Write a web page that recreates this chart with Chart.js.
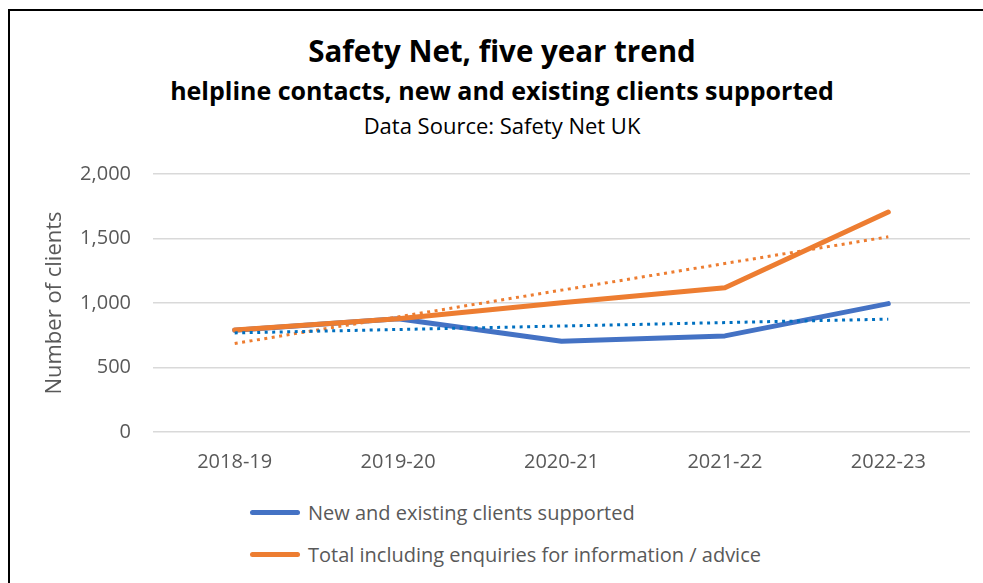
<!DOCTYPE html>
<html>
<head>
<meta charset="utf-8">
<script src="https://cdn.jsdelivr.net/npm/chart.js@4"></script>
<style>
  html, body { margin: 0; padding: 0; background: #fff; }
  body { width: 983px; height: 583px; position: relative; overflow: hidden; font-family: "Open Sans", sans-serif; }
  #frame { position: absolute; left: 8px; top: 9px; width: 990px; height: 600px; border: 2px solid #000; box-sizing: border-box; }
  .ttl { position: absolute; left: 0; width: 1004px; text-align: center; color: #000; white-space: nowrap; }
  #t1 { top: 30px; font-size: 29.5px; font-weight: 700; }
  #t2 { top: 73px; font-size: 25px; font-weight: 700; }
  #t3 { top: 110px; font-size: 22px; }
  #wrap { position: absolute; left: 0; top: 140px; width: 983px; height: 342px; }
  #legend { position: absolute; left: 250px; top: 491px; color: #595959; font-size: 20px; }
  .row { display: flex; align-items: center; height: 42px; }
  .sw { width: 50px; height: 5px; border-radius: 3px; margin-right: 8px; }
</style>
</head>
<body>
<div id="frame"></div>
<div class="ttl" id="t1">Safety Net, five year trend</div>
<div class="ttl" id="t2">helpline contacts, new and existing clients supported</div>
<div class="ttl" id="t3">Data Source: Safety Net UK</div>
<div id="wrap"><canvas id="chart"></canvas></div>
<div id="legend"></div>
<script>
'use strict';

const years = ['2018-19', '2019-20', '2020-21', '2021-22', '2022-23'];
const clientsSupported = [788, 878, 703, 745, 995];
const totalWithEnquiries = [790, 878, 1002, 1118, 1705];
// trend lines read at their two ends
const clientsTrend = [768, null, null, null, 875];
const totalTrend = [686, null, null, null, 1513];
const yTicks = [0, 500, 1000, 1500, 2000];

const blue = '#4472C4';
const orange = '#ED7D31';
const gray = '#595959';

function initChart() {
  const ctx = document.getElementById('chart');

  new Chart(ctx, {
    type: 'line',
    data: {
      labels: years,
      datasets: [
        {
          label: 'New and existing clients supported',
          data: clientsSupported,
          borderColor: blue,
          borderWidth: 5,
          borderCapStyle: 'round',
          borderJoinStyle: 'round',
          pointRadius: 0,
          order: 3
        },
        {
          label: 'Total including enquiries for information / advice',
          data: totalWithEnquiries,
          borderColor: orange,
          borderWidth: 5,
          borderCapStyle: 'round',
          borderJoinStyle: 'round',
          pointRadius: 0,
          order: 2
        },
        {
          label: 'trend 1',
          data: clientsTrend,
          borderColor: '#0070C0',
          borderWidth: 3,
          borderDash: [3, 4.5],
          pointRadius: 0,
          spanGaps: true,
          order: 0
        },
        {
          label: 'trend 2',
          data: totalTrend,
          borderColor: orange,
          borderWidth: 3,
          borderDash: [3, 4.5],
          pointRadius: 0,
          spanGaps: true,
          order: 1
        }
      ]
    },
    options: {
      responsive: true,
      maintainAspectRatio: false,
      animation: false,
      layout: { padding: { left: 42, right: 13, top: 12, bottom: 0 } },
      plugins: {
        legend: { display: false },
        tooltip: { enabled: false }
      },
      scales: {
        x: {
          offset: true,
          grid: { display: false, drawTicks: false },
          border: { display: false },
          ticks: { color: gray, font: { family: 'Open Sans', size: 20 }, padding: 18, maxRotation: 0 },
          afterFit: s => { s.height = 50; }
        },
        y: {
          min: 0,
          max: 2000,
          afterBuildTicks: s => { s.ticks = yTicks.map(v => ({ value: v })); },
          grid: { color: '#d9d9d9', lineWidth: 1.5, drawTicks: false },
          border: { display: false },
          ticks: {
            color: gray,
            font: { family: 'Open Sans', size: 20 },
            padding: 22,
            callback: v => v.toLocaleString('en-GB')
          },
          title: {
            display: true,
            text: 'Number of clients',
            color: gray,
            font: { family: 'Open Sans', size: 22 },
            padding: { top: 0, bottom: 0 }
          },
          afterFit: s => { s.width = 111; }
        }
      }
    }
  });

  // legend, stacked like the original
  const legend = document.getElementById('legend');
  [[blue, 'New and existing clients supported'], [orange, 'Total including enquiries for information / advice']].forEach(([c, t]) => {
    const div = document.createElement('div');
    div.className = 'row';
    div.innerHTML = `<div class="sw" style="background:${c}"></div><span>${t}</span>`;
    legend.appendChild(div);
  });
}

initChart();
</script>
</body>
</html>
